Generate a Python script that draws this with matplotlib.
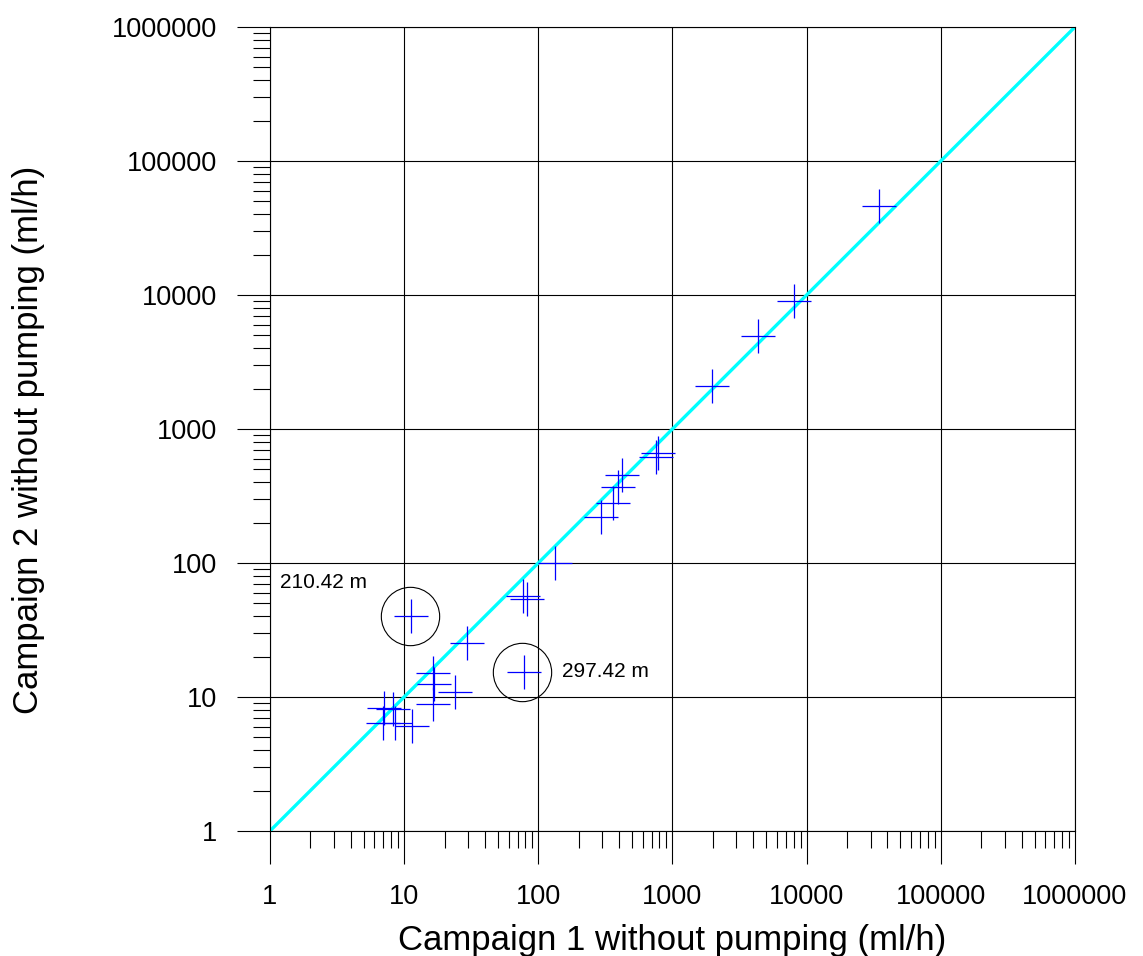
import matplotlib.pyplot as plt
from matplotlib.ticker import FixedLocator, LogLocator, NullFormatter

plt.rcParams['font.family'] = ['Liberation Sans', 'DejaVu Sans']

# Campaign 1 vs campaign 2 flow rates (ml/h)
campaign1 = [7.1, 8.3, 6.9, 8.5, 11.5, 11.2, 16.5, 16.8, 16.5, 23.9, 29.2, 78.5,
             76.4, 82, 133, 294, 362, 390, 417, 757, 783, 1967, 4350, 7980, 34700]
campaign2 = [8.3, 8.2, 6.4, 6.4, 6.1, 40.2, 15.2, 12.5, 8.9, 10.8, 25.2, 15.4,
             57, 53.5, 99.5, 222, 280, 367, 454, 615, 665, 2100, 4920, 8970, 46400]

# circled outliers and their depth labels
circle_x = [11.05, 75.1]
circle_y = [40.2, 15.4]
label_x = [1.19, 150]
label_y = [71, 15.4]
label_text = ['210.42 m', '297.42 m']

decades = [1, 10, 100, 1000, 10000, 100000, 1000000]

fig = plt.figure(figsize=(11.43, 9.56), dpi=100)
ax = fig.add_axes([0.2362, 0.1308, 0.7043, 0.841])

ax.plot([1, 1e6], [1, 1e6], color='#00ffff', lw=2.4, zorder=2)
ax.plot(campaign1, campaign2, '+', color='#0000ff', ms=25, mew=0.9, zorder=3)
ax.plot(circle_x, circle_y, 'o', ms=42, mfc='none', mec='black', mew=0.8, zorder=3)
for tx, ty, s in zip(label_x, label_y, label_text):
    ax.text(tx, ty, s, fontsize=15, ha='left', va='center')

ax.set_xscale('log')
ax.set_yscale('log')
ax.set_xlim(1, 1e6)
ax.set_ylim(1, 1e6)

for axis in (ax.xaxis, ax.yaxis):
    axis.set_major_locator(FixedLocator(decades))
    axis.set_minor_locator(LogLocator(base=10, subs=range(2, 10), numticks=20))
    axis.set_minor_formatter(NullFormatter())
ax.set_xticklabels([str(d) for d in decades])
ax.set_yticklabels([str(d) for d in decades])

ax.tick_params(which='major', direction='out', length=24, width=0.8, labelsize=19.5, pad=14)
ax.tick_params(which='minor', direction='out', length=12, width=0.8)
ax.tick_params(axis='y', which='major', pad=14)
ax.grid(True, which='major', color='black', lw=0.8)
for sp in ax.spines.values():
    sp.set_linewidth(0.8)

ax.set_xlabel('Campaign 1 without pumping (ml/h)', fontsize=25)
ax.set_ylabel('Campaign 2 without pumping (ml/h)', fontsize=25)
ax.xaxis.label.set_va('center')
ax.yaxis.label.set_va('center')
ax.xaxis.set_label_coords(0.5, -0.136)
ax.yaxis.set_label_coords(-0.30, 0.487)

fig.savefig('out.png', dpi=100)
